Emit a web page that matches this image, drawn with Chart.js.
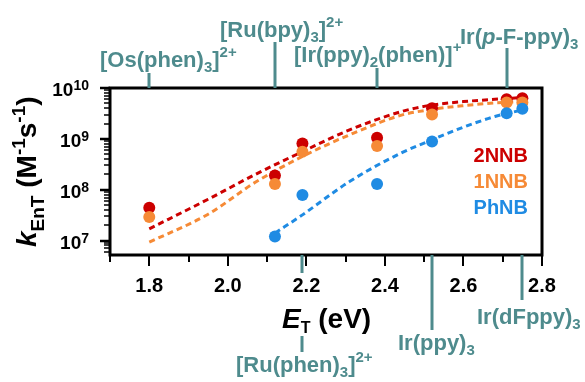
<!DOCTYPE html>
<html>
<head>
<meta charset="utf-8">
<script src="https://cdn.jsdelivr.net/npm/chart.js@4.4.1/dist/chart.umd.min.js"></script>
<style>
  html, body { margin: 0; padding: 0; background: #fff; }
  #wrap { width: 585px; height: 382px; }
</style>
</head>
<body>
<div id="wrap"><canvas id="chart" width="585" height="382"></canvas></div>
<script>
// triplet energies (eV) of the sensitizers, same order as the names
const energies = [1.80, 2.12, 2.19, 2.38, 2.52, 2.71, 2.75];
// _ = subscript, ^ = superscript, *..* = italic
const sensitizers = ['[Os(phen)_3]^{2+}', '[Ru(bpy)_3]^{2+}', '[Ru(phen)_3]^{2+}',
  '[Ir(ppy)_2(phen)]^+', 'Ir(ppy)_3', 'Ir(*p*-F-ppy)_3', 'Ir(dFppy)_3'];

// measured k_EnT (M-1 s-1)
const k2NNB = [4.4e7, 1.9e8, 8.1e8, 1.05e9, 4.0e9, 6.0e9, 6.3e9];
const k1NNB = [2.9e7, 1.3e8, 5.6e8, 7.2e8, 3.0e9, 5.2e9, 5.2e9];
const kPhNB = [null, 1.2e7, 7.9e7, 1.3e8, 8.9e8, 3.2e9, 3.9e9];

// fitted curves (dashed)
const fitE = [1.80, 1.95, 2.07, 2.19, 2.31, 2.44, 2.51, 2.60, 2.68, 2.75];
const fit2NNB = [1.7e7, 6.5e7, 2.0e8, 5.6e8, 1.5e9, 3.4e9, 4.5e9, 5.4e9, 6.0e9, 6.5e9];
const fit1NNB = [9.3e6, 3.3e7, 1.4e8, 4.5e8, 1.2e9, 2.9e9, 3.7e9, 4.5e9, 5.1e9, 5.4e9];
const fitEPh = [2.12, 2.19, 2.31, 2.44, 2.51, 2.60, 2.68, 2.75];
const fitPhNB = [1.4e7, 3.2e7, 1.45e8, 5.2e8, 8.9e8, 1.7e9, 2.75e9, 3.7e9];

const seriesNames = ['2NNB', '1NNB', 'PhNB'];
const xTickLabels = [1.8, 2.0, 2.2, 2.4, 2.6, 2.8];
const yTickLabels = [7, 8, 9, 10]; // exponents of 10

// styles
const seriesColors = ['#CC0000', '#F68A36', '#1F8BE3'];
const teal = '#4E8B8D';
const FONT = 'Arial, "Liberation Sans", sans-serif';

// where each sensitizer label sits (side, line pieces, text start offset, baseline)
const labelLayout = [
  { side: 'top', lines: [[73, 88]], dx: -49, base: 67 },
  { side: 'top', lines: [[42, 88]], dx: -55, base: 37 },
  { side: 'bottom', lines: [[255, 273], [336, 352]], dx: -66, base: 372 },
  { side: 'top', lines: [[68, 88]], dx: -83, base: 62 },
  { side: 'bottom', lines: [[255, 330]], dx: -34, base: 350 },
  { side: 'top', lines: [[48, 88]], dx: -47, base: 44 },
  { side: 'bottom', lines: [[255, 300]], dx: -45, base: 324 }
];

function toPoints(xs, ys) {
  return xs.map((x, i) => ({ x: x, y: ys[i] })).filter(p => p.y !== null);
}

// split "a_3^{2+}" into pieces
function parseRich(s) {
  const parts = [];
  let buf = '', italic = false, i = 0;
  const push = (t, mode, it) => { if (t) parts.push({ t: t, mode: mode, it: it }); };
  while (i < s.length) {
    const c = s[i];
    if (c === '_' || c === '^') {
      push(buf, '', italic); buf = '';
      let t;
      if (s[i + 1] === '{') { const j = s.indexOf('}', i); t = s.slice(i + 2, j); i = j + 1; }
      else { t = s[i + 1]; i += 2; }
      push(t, c === '_' ? 'sub' : 'sup', false);
      continue;
    }
    if (c === '*') { push(buf, '', italic); buf = ''; italic = !italic; i++; continue; }
    buf += c; i++;
  }
  push(buf, '', italic);
  return parts;
}

function fontFor(p, o) {
  const size = p.mode ? o.small : o.size;
  return (p.it ? 'italic ' : '') + 'bold ' + size + 'px ' + FONT;
}

function richWidth(ctx, parts, o) {
  let w = 0;
  parts.forEach(p => { ctx.font = fontFor(p, o); w += ctx.measureText(p.t).width; });
  return w;
}

function drawRich(ctx, text, x, y, o) {
  const parts = parseRich(text);
  const w = richWidth(ctx, parts, o);
  let cx = o.align === 'right' ? x - w : (o.align === 'center' ? x - w / 2 : x);
  ctx.fillStyle = o.color;
  ctx.textAlign = 'left';
  ctx.textBaseline = 'alphabetic';
  parts.forEach(p => {
    ctx.font = fontFor(p, o);
    let dy = 0;
    if (p.mode === 'sub') dy = o.drop;
    if (p.mode === 'sup') dy = -o.rise;
    ctx.fillText(p.t, cx, y + dy);
    cx += ctx.measureText(p.t).width;
  });
}

const decorations = {
  id: 'decorations',
  afterDraw(chart) {
    const ctx = chart.ctx;
    const a = chart.chartArea;
    const xs = chart.scales.x;
    const ys = chart.scales.y;
    ctx.save();

    // frame
    ctx.strokeStyle = '#000';
    ctx.lineWidth = 3;
    ctx.strokeRect(a.left, a.top, a.right - a.left, a.bottom - a.top);

    // x ticks every 0.1, long ones at the labels
    ctx.lineWidth = 2;
    for (let i = 0; i <= 11; i++) {
      const v = 1.7 + i * 0.1;
      const px = Math.round(xs.getPixelForValue(v));
      const major = i % 2 === 1;
      ctx.beginPath();
      ctx.moveTo(px, a.bottom);
      ctx.lineTo(px, a.bottom + (major ? 11 : 7));
      ctx.stroke();
    }
    // y ticks, log minors
    for (let e = 6; e <= 10; e++) {
      for (let m = 1; m <= 9; m++) {
        const v = m * Math.pow(10, e);
        if (v < ys.min * 0.999 || v > ys.max * 1.001) continue;
        const py = Math.round(ys.getPixelForValue(v));
        ctx.lineWidth = m === 1 ? 2.5 : 1.5;
        ctx.beginPath();
        ctx.moveTo(a.left, py);
        ctx.lineTo(a.left - (m === 1 ? 10 : 6), py);
        ctx.stroke();
      }
    }

    // tick labels
    ctx.fillStyle = '#000';
    ctx.font = 'bold 20px ' + FONT;
    ctx.textAlign = 'center';
    ctx.textBaseline = 'alphabetic';
    xTickLabels.forEach(v => {
      ctx.fillText(v.toFixed(1), xs.getPixelForValue(v), a.bottom + 37);
    });
    yTickLabels.forEach(p => {
      const py = ys.getPixelForValue(Math.pow(10, p));
      drawRich(ctx, '10^{' + p + '}', a.left - 21, py + 8,
        { size: 19, small: 14, rise: 6, drop: 0, color: '#000', align: 'right' });
    });

    // axis titles
    drawRich(ctx, '*E*_T (eV)', 282, 328,
      { size: 28, small: 16, rise: 0, drop: 5, color: '#000', align: 'left' });
    ctx.save();
    ctx.translate(36, 247);
    ctx.rotate(-Math.PI / 2);
    drawRich(ctx, '*k*_{EnT} (M^{-1}s^{-1})', 0, 0,
      { size: 28, small: 19, rise: 11, drop: 8, color: '#000', align: 'left' });
    ctx.restore();

    // legend text in the plot
    seriesNames.forEach((n, i) => {
      ctx.font = 'bold 20px ' + FONT;
      ctx.fillStyle = seriesColors[i];
      ctx.textAlign = 'right';
      ctx.fillText(n, a.right - 14, a.top + 74 + i * 26);
    });

    // sensitizer markers and names
    ctx.strokeStyle = teal;
    ctx.lineWidth = 3;
    energies.forEach((e, i) => {
      const lay = labelLayout[i];
      const px = Math.round(xs.getPixelForValue(e));
      lay.lines.forEach(seg => {
        ctx.beginPath();
        ctx.moveTo(px, seg[0]);
        ctx.lineTo(px, seg[1]);
        ctx.stroke();
      });
      drawRich(ctx, sensitizers[i], px + lay.dx, lay.base,
        { size: 22, small: 15, rise: 10, drop: 5, color: teal, align: 'left' });
    });

    ctx.restore();
  }
};

const fitDataset = (pts, color) => ({
  type: 'line',
  data: pts,
  borderColor: color,
  backgroundColor: color,
  borderWidth: 3,
  borderDash: [6, 4],
  pointRadius: 0,
  cubicInterpolationMode: 'monotone',
  fill: false,
  order: 10
});

const pointDataset = (pts, color, order) => ({
  type: 'scatter',
  data: pts,
  backgroundColor: color,
  borderColor: color,
  borderWidth: 0,
  pointRadius: 6,
  order: order
});

new Chart(document.getElementById('chart'), {
  type: 'scatter',
  data: {
    datasets: [
      fitDataset(toPoints(fitE, fit2NNB), seriesColors[0]),
      fitDataset(toPoints(fitE, fit1NNB), seriesColors[1]),
      fitDataset(toPoints(fitEPh, fitPhNB), seriesColors[2]),
      pointDataset(toPoints(energies, k2NNB), seriesColors[0], 3),
      pointDataset(toPoints(energies, k1NNB), seriesColors[1], 2),
      pointDataset(toPoints(energies, kPhNB), seriesColors[2], 1)
    ]
  },
  options: {
    responsive: false,
    animation: false,
    devicePixelRatio: 1,
    layout: { padding: { left: 110, top: 88, right: 43, bottom: 127 } },
    scales: {
      x: {
        type: 'linear', display: false, min: 1.7, max: 2.8,
        afterBuildTicks: s => { s.min = 1.7; s.max = 2.8; }
      },
      y: {
        type: 'logarithmic', display: false, min: 5.2e6, max: 1e10,
        afterBuildTicks: s => { s.min = 5.2e6; s.max = 1e10; }
      }
    },
    plugins: {
      legend: { display: false },
      tooltip: { enabled: false }
    }
  },
  plugins: [decorations]
});
</script>
</body>
</html>
